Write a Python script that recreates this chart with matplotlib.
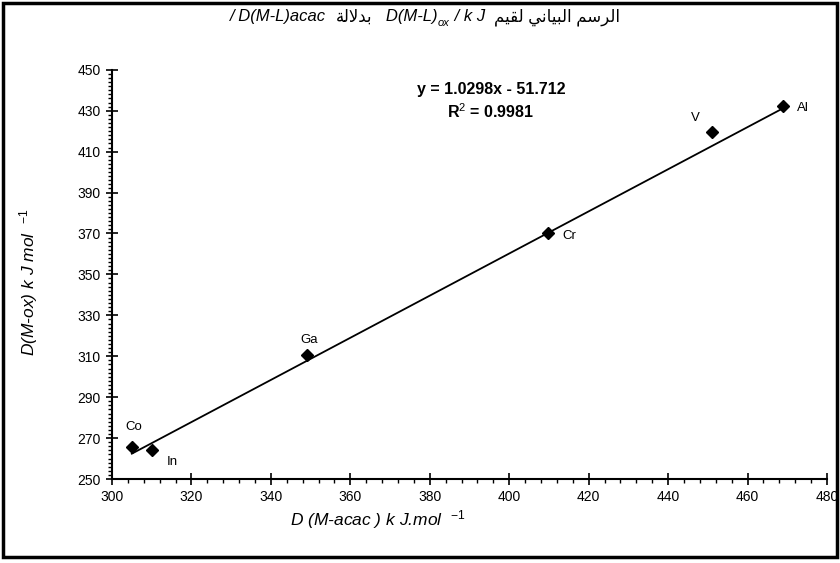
import numpy as np
import matplotlib
matplotlib.use('Agg')
import matplotlib.pyplot as plt
from matplotlib.patches import Rectangle
from matplotlib.ticker import MultipleLocator

plt.rcParams['font.family'] = ['Liberation Sans', 'DejaVu Sans']
plt.rcParams['mathtext.fontset'] = 'custom'
plt.rcParams['mathtext.it'] = 'Liberation Sans:italic'
plt.rcParams['mathtext.rm'] = 'Liberation Sans'
# ------------------------------------------------------------------------- #
# values
metals = ['Co', 'In', 'Ga', 'Cr', 'V', 'Al']
d_acac = [305.0, 310.1, 349.1, 409.8, 451.1, 469.0]   # D(M-acac) kJ/mol
d_ox = [265.6, 264.0, 310.6, 370.2, 419.6, 432.3]     # D(M-ox) kJ/mol
fit_slope = 1.0298
fit_icpt = -51.712
fit_r2 = 0.9981

x_ticks = [300, 320, 340, 360, 380, 400, 420, 440, 460, 480]
y_ticks = [250, 270, 290, 310, 330, 350, 370, 390, 410, 430, 450]

# where each metal name sits relative to its marker (pixels)
label_off = {'Co': (2, 20), 'In': (20, -12), 'Ga': (2, 15),
             'Cr': (21, -3), 'V': (-17, 14), 'Al': (20, -2)}

# arabic words, presentation forms in visual (left to right) order
rasm_vis = '\ufee2\ufeb3\ufeae\ufedf\ufe8d'                 # الرسم
bayani_vis = '\ufef2\ufee7\ufe8e\ufef4\ufe92\ufedf\ufe8d'   # البياني
liqiyam_vis = '\ufee2\ufef4\ufed8\ufedf'                    # لقيم
badalala_vis = '\ufe94\ufedf\ufefb\ufeaa\ufe91'             # بدلالة
# ------------------------------------------------------------------------- #

fig = plt.figure(figsize=(8.4, 5.63), dpi=100)
ax = fig.add_axes([0.1333, 0.1492, 0.8512, 0.7268])

# scatter points
ax.plot(d_acac, d_ox, linestyle='none', marker='D', ms=6.5, color='black')

# linear trend line over the data range
xl = np.array([min(d_acac), max(d_acac)])
ax.plot(xl, fit_slope * xl + fit_icpt, color='black', lw=1.3)

for name, xv, yv in zip(metals, d_acac, d_ox):
    ax.annotate(name, xy=(xv, yv), xytext=label_off[name], textcoords='offset pixels',
                ha='center', va='center', fontsize=9.5)

ax.text(0.530, 0.953, 'y = %.4fx - %.3f' % (fit_slope, -fit_icpt), transform=ax.transAxes,
        ha='center', va='center', fontsize=11.5, fontweight='bold')
ax.text(0.530, 0.897, r'R$^2$ = %.4f' % fit_r2, transform=ax.transAxes,
        ha='center', va='center', fontsize=11.5, fontweight='bold')

ax.set_xlim(300, 480)
ax.set_ylim(250, 450)
ax.set_xticks(x_ticks)
ax.set_yticks(y_ticks)
ax.xaxis.set_minor_locator(MultipleLocator(4))
ax.yaxis.set_minor_locator(MultipleLocator(2))
ax.tick_params(which='major', direction='inout', length=8, width=1.2, labelsize=10, pad=4)
ax.tick_params(which='minor', direction='out', length=3, width=1.0)

for s in ['top', 'right']:
    ax.spines[s].set_visible(False)
for s in ['left', 'bottom']:
    ax.spines[s].set_linewidth(1.5)

ax.set_xlabel(r'D (M-acac ) k J.mol  $^{-1}$', fontsize=12.5, style='italic')
ax.xaxis.set_label_coords(0.372, -0.07)
ax.set_ylabel(r'D(M-ox) k J mol  $^{-1}$', fontsize=12.5, style='italic')
ax.yaxis.set_label_coords(-0.10, 0.48)

# title: mixed arabic / latin, built piece by piece along one baseline
y0 = 0.962
pieces = [('/ D(M-L)acac  ', 'italic', 12, 0),
          (badalala_vis, 'normal', 12, 0),
          ('   D(M-L)', 'italic', 12, 0),
          ('ox', 'italic', 8, -3),
          (' / k J  ', 'italic', 12, 0),
          (liqiyam_vis + ' ' + bayani_vis + ' ' + rasm_vis, 'normal', 12, 0)]
prev = fig.text(0.274, y0, pieces[0][0], style=pieces[0][1], fontsize=pieces[0][2], va='baseline')
for txt, st, fs, dy in pieces[1:]:
    prev = fig.add_artist(matplotlib.text.Annotation(
        txt, xy=(1, y0), xycoords=(prev, 'figure fraction'), xytext=(0, dy),
        textcoords='offset points', style=st, fontsize=fs, va='baseline', ha='left'))

# frame round the whole picture
fig.add_artist(Rectangle((0.004, 0.011), 0.992, 0.984, transform=fig.transFigure,
                         fill=False, lw=2.5, ec='black'))

fig.savefig('out.png', dpi=100)
